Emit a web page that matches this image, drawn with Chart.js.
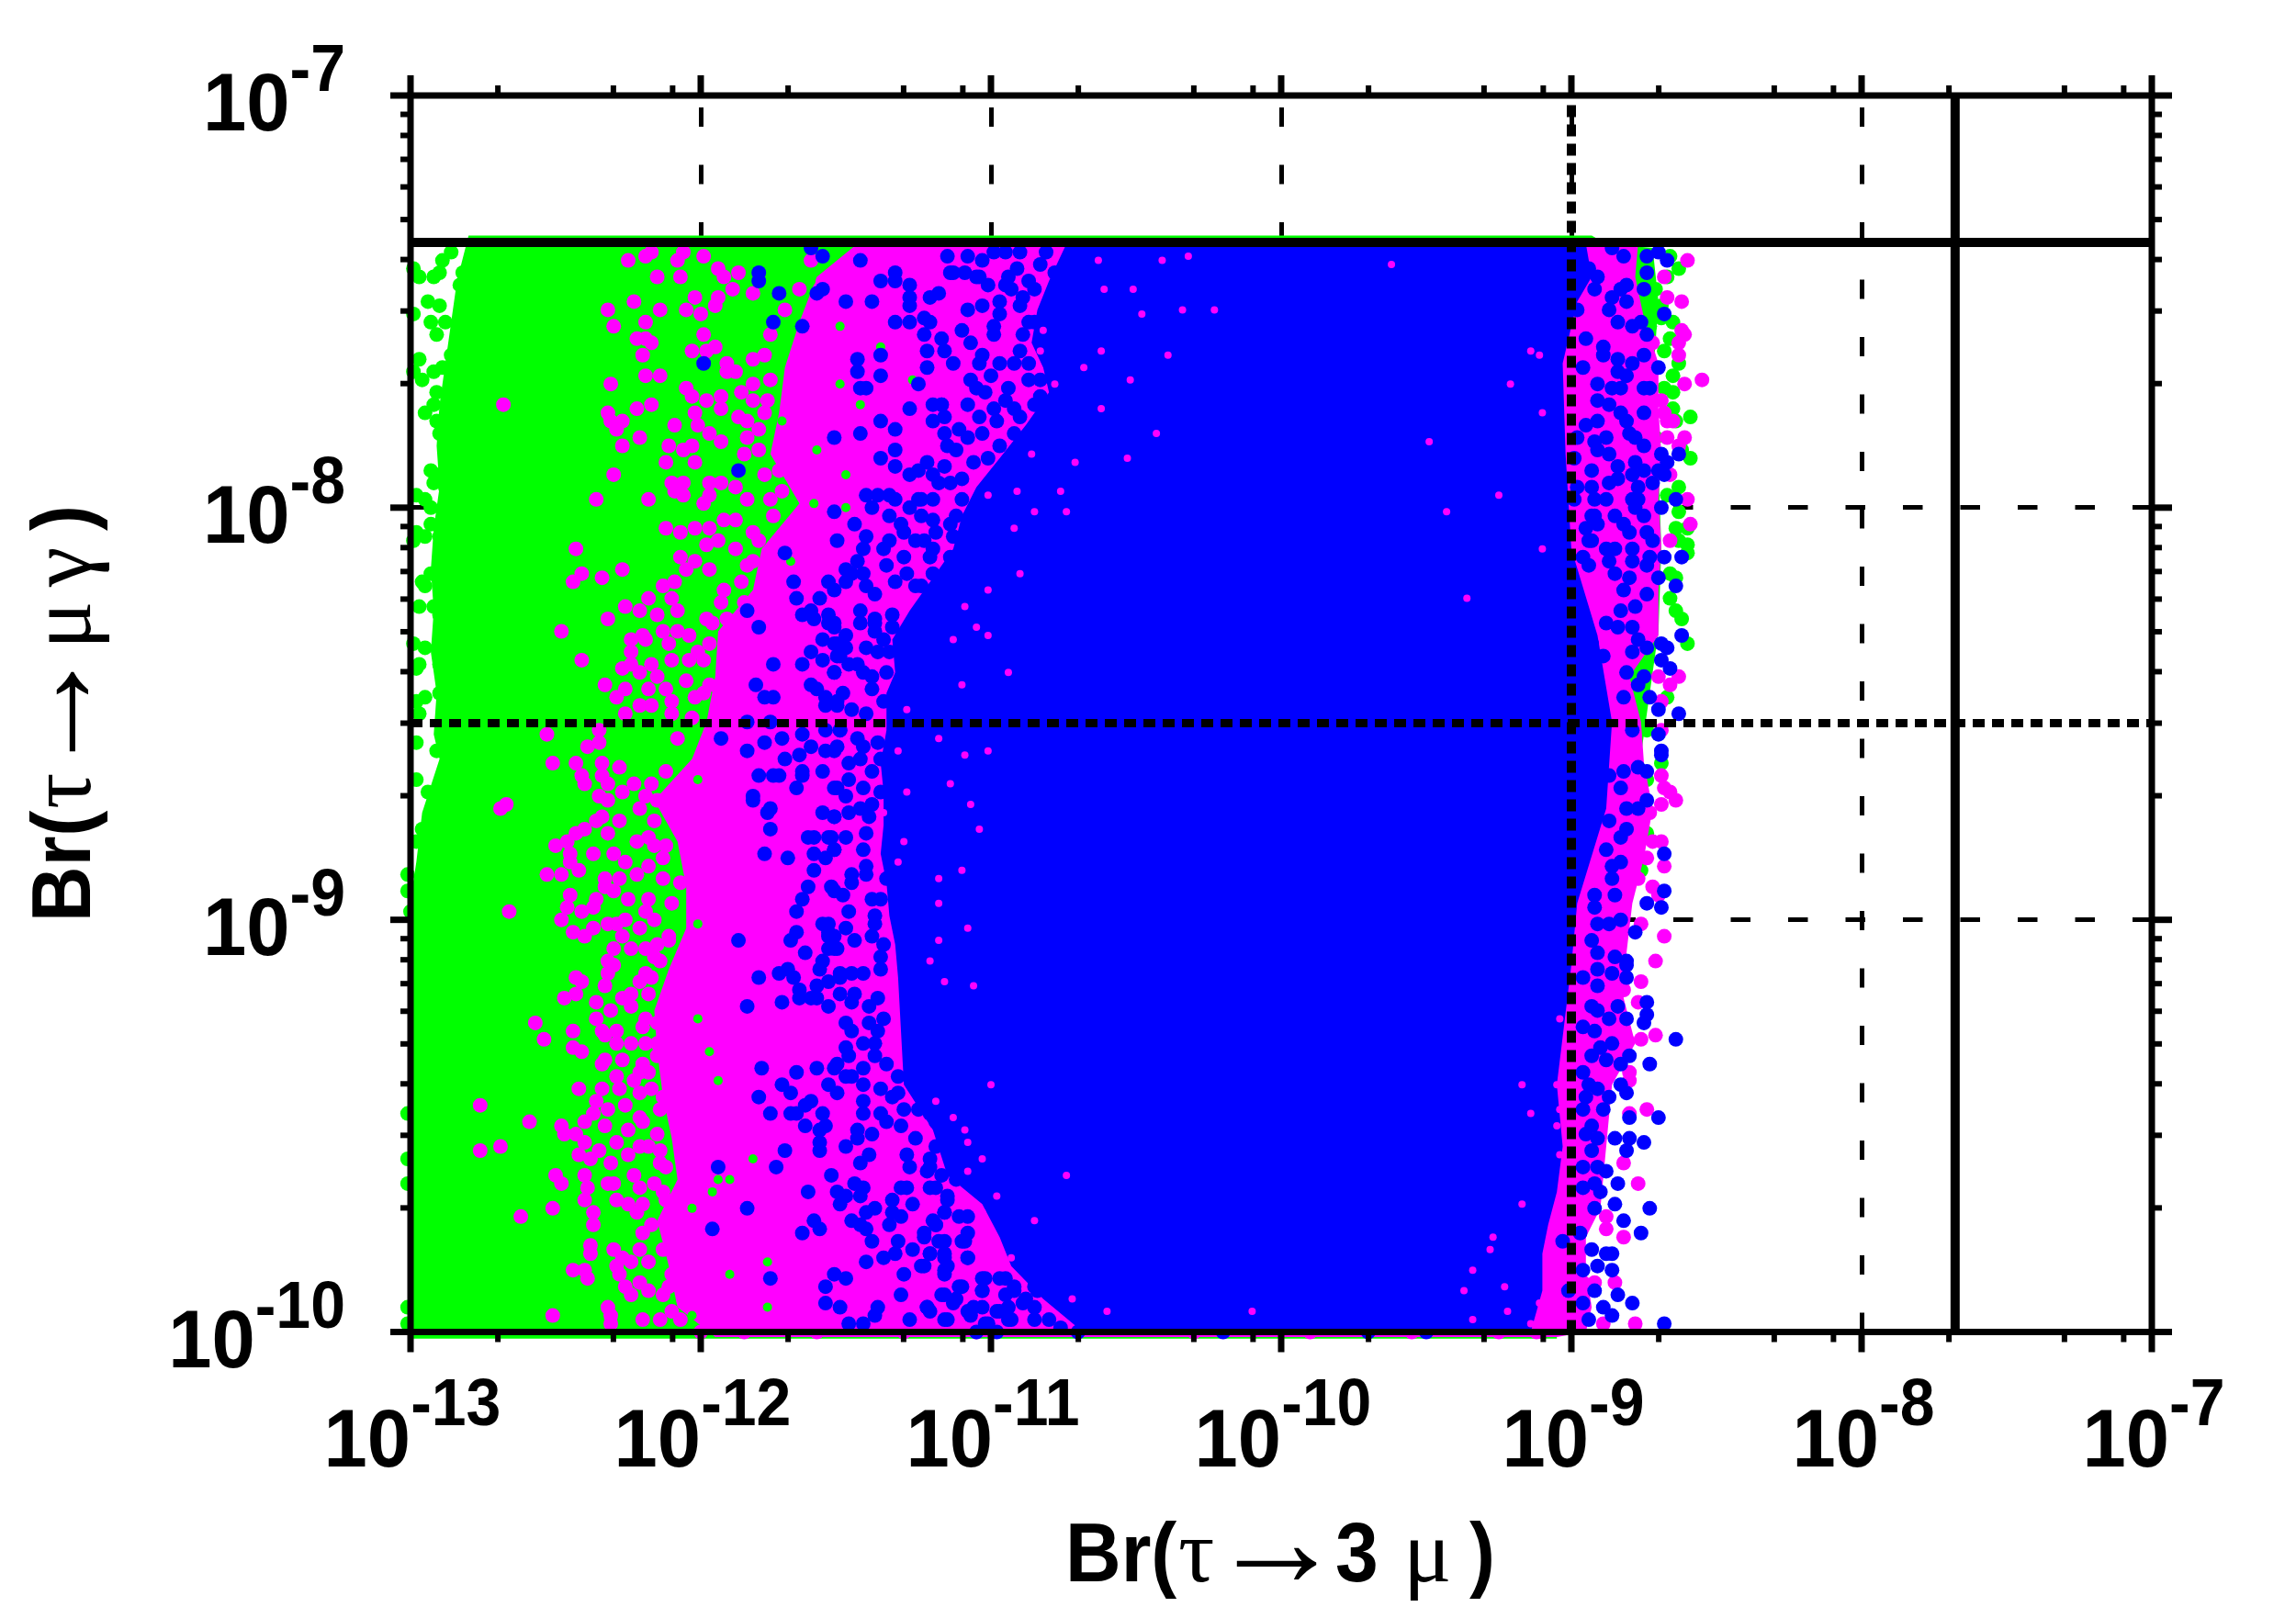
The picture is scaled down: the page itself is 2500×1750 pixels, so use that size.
<!DOCTYPE html>
<html>
<head>
<meta charset="utf-8">
<title>Br chart</title>
<script src="https://cdn.jsdelivr.net/npm/chart.js@4"></script>
<style>
  body { margin: 0; background: #fff; }
  canvas { display: block; }
</style>
</head>
<body>
<canvas id="brChart" width="2500" height="1750"></canvas>
<script>
// all pairs are [log10 Br(tau->3mu), log10 Br(tau->mu gamma)]
const xTickValues = [1e-13, 1e-12, 1e-11, 1e-10, 1e-9, 1e-8, 1e-7];
const yTickValues = [1e-10, 1e-9, 1e-8, 1e-7];
const xMinorFactors = [2, 5, 8];
const yMinorFactors = [2, 3, 4, 5, 6, 7, 8, 9];
const xTickLabels = ['-13', '-12', '-11', '-10', '-9', '-8', '-7'];
const yTickLabels = ['-10', '-9', '-8', '-7'];

const limitMuGamma = 4.4e-8;
const limitThreeMu = 2.1e-8;
const futureMuGamma = 3e-9;
const futureThreeMu = 1e-9;

// solid parts of the clouds, where single dots can no longer be told apart
const greenOutline = [[-12.80,-7.34],[-8.93,-7.34],[-8.88,-7.36],[-8.72,-7.37],[-8.70,-7.5],[-8.72,-7.7],[-8.70,-7.9],[-8.69,-8.1],[-8.70,-8.3],[-8.74,-8.5],[-8.78,-8.7],[-8.82,-9.0],[-9.05,-9.5],[-9.05,-10.016],[-13,-10.016],[-13,-8.95],[-12.98,-8.86],[-12.96,-8.74],[-12.90,-8.61],[-12.92,-8.55],[-12.91,-8.45],[-12.93,-8.35],[-12.92,-8.25],[-12.93,-8.15],[-12.92,-8.05],[-12.90,-7.95],[-12.91,-7.85],[-12.90,-7.75],[-12.88,-7.65],[-12.86,-7.55],[-12.84,-7.45]];
const magentaOutline = [[-11.44,-7.348],[-8.90,-7.348],[-8.77,-7.36],[-8.78,-7.44],[-8.75,-7.54],[-8.70,-7.65],[-8.70,-7.76],[-8.69,-7.87],[-8.70,-7.98],[-8.69,-8.09],[-8.70,-8.2],[-8.70,-8.31],[-8.80,-8.41],[-8.76,-8.52],[-8.75,-8.62],[-8.72,-8.73],[-8.75,-8.85],[-8.79,-8.96],[-8.81,-9.08],[-8.82,-9.19],[-8.78,-9.30],[-8.86,-9.40],[-8.88,-9.55],[-8.90,-9.70],[-8.95,-9.77],[-8.95,-9.85],[-8.93,-9.94],[-8.95,-10.0],[-9.05,-10.012],[-11.95,-10.012],[-12.08,-9.94],[-12.11,-9.84],[-12.15,-9.73],[-12.08,-9.63],[-12.10,-9.53],[-12.13,-9.43],[-12.15,-9.32],[-12.16,-9.22],[-12.11,-9.12],[-12.05,-9.02],[-12.05,-8.92],[-12.08,-8.81],[-12.16,-8.71],[-12.03,-8.61],[-11.98,-8.52],[-11.95,-8.41],[-11.94,-8.30],[-11.82,-8.20],[-11.79,-8.10],[-11.66,-7.99],[-11.76,-7.87],[-11.73,-7.77],[-11.71,-7.66],[-11.66,-7.55],[-11.60,-7.44]];
const blueOutline = [[-10.74,-7.36],[-8.95,-7.36],[-8.93,-7.44],[-8.98,-7.5],[-9.03,-7.65],[-9.02,-7.87],[-9.0,-8.1],[-8.91,-8.31],[-8.86,-8.52],[-8.88,-8.73],[-8.98,-8.96],[-9.00,-9.11],[-9.05,-9.40],[-9.03,-9.55],[-9.05,-9.66],[-9.08,-9.74],[-9.10,-9.81],[-9.10,-9.90],[-9.14,-10.0],[-10.70,-10.0],[-10.70,-9.99],[-10.82,-9.92],[-10.93,-9.84],[-10.97,-9.77],[-11.03,-9.69],[-11.15,-9.62],[-11.20,-9.51],[-11.30,-9.40],[-11.32,-9.14],[-11.33,-9.06],[-11.35,-8.99],[-11.36,-8.91],[-11.38,-8.84],[-11.37,-8.77],[-11.37,-8.69],[-11.38,-8.62],[-11.36,-8.54],[-11.36,-8.45],[-11.33,-8.40],[-11.34,-8.32],[-11.28,-8.25],[-11.20,-8.17],[-11.13,-8.10],[-11.10,-8.02],[-11.05,-7.95],[-10.97,-7.88],[-10.88,-7.80],[-10.80,-7.72],[-10.82,-7.66],[-10.86,-7.60],[-10.84,-7.52],[-10.80,-7.45]];

const greenPoints = [[-12.89,-7.40],[-12.90,-7.43],[-12.92,-7.44],[-12.97,-7.44],[-12.99,-7.42],[-12.79,-7.39],[-12.86,-7.38],[-12.82,-7.43],[-12.78,-7.42],[-12.79,-7.48],[-12.83,-7.46],[-12.94,-7.50],[-12.90,-7.51],[-12.99,-7.53],[-12.93,-7.55],[-12.88,-7.55],[-12.82,-7.54],[-12.91,-7.58],[-12.83,-7.59],[-12.97,-7.64],[-12.86,-7.63],[-12.89,-7.66],[-12.92,-7.67],[-12.99,-7.67],[-12.96,-7.69],[-12.91,-7.72],[-12.86,-7.72],[-12.81,-7.72],[-12.92,-7.75],[-12.95,-7.77],[-12.87,-7.75],[-12.84,-7.76],[-12.91,-7.79],[-12.90,-7.82],[-12.82,-7.79],[-12.84,-7.83],[-12.87,-7.88],[-12.93,-7.91],[-12.91,-7.92],[-12.84,-7.92],[-12.80,-7.92],[-12.92,-7.94],[-12.88,-7.95],[-12.98,-7.97],[-12.95,-7.98],[-12.87,-7.97],[-12.81,-7.96],[-12.93,-8.00],[-12.85,-8.01],[-12.93,-8.04],[-12.98,-8.06],[-12.99,-8.08],[-12.95,-8.07],[-12.90,-8.07],[-12.93,-8.16],[-12.87,-8.13],[-12.96,-8.18],[-12.95,-8.19],[-12.87,-8.20],[-12.97,-8.24],[-12.92,-8.24],[-12.90,-8.26],[-12.86,-8.25],[-12.99,-8.33],[-12.95,-8.34],[-12.88,-8.32],[-12.97,-8.38],[-12.90,-8.38],[-12.98,-8.39],[-12.88,-8.36],[-12.83,-8.39],[-12.85,-8.45],[-12.95,-8.46],[-12.90,-8.45],[-12.98,-8.47],[-12.97,-8.50],[-12.87,-8.49],[-12.98,-8.57],[-12.91,-8.59],[-12.86,-8.61],[-12.84,-8.65],[-12.98,-8.66],[-12.88,-8.67],[-12.94,-8.69],[-12.96,-8.78],[-12.93,-8.81],[-12.98,-8.81],[-12.94,-8.86],[-13.01,-8.89],[-13.01,-8.93],[-13.00,-8.98],[-13.01,-9.47],[-13.01,-9.58],[-13.01,-9.64],[-13.01,-9.94],[-13.01,-9.98],
  [-8.63,-7.42],[-8.66,-7.39],[-8.67,-7.44],[-8.71,-7.47],[-8.69,-7.51],[-8.69,-7.54],[-8.65,-7.55],[-8.73,-7.56],[-8.66,-7.59],[-8.68,-7.62],[-8.63,-7.65],[-8.65,-7.68],[-8.68,-7.71],[-8.65,-7.72],[-8.65,-7.76],[-8.59,-7.78],[-8.64,-7.79],[-8.71,-7.83],[-8.62,-7.86],[-8.59,-7.88],[-8.63,-7.95],[-8.67,-7.97],[-8.63,-8.01],[-8.64,-8.05],[-8.60,-8.05],[-8.63,-8.08],[-8.60,-8.09],[-8.60,-8.11],[-8.66,-8.16],[-8.64,-8.17],[-8.66,-8.22],[-8.64,-8.25],[-8.62,-8.27],[-8.60,-8.33],[-8.67,-8.46],[-8.74,-8.54],[-8.69,-8.62],[-8.74,-8.66],[-8.74,-8.79],[-8.76,-8.88],[-8.81,-8.92]];

const greenGaps = [[-11.62,-7.45],[-11.52,-7.56],[-11.38,-7.61],[-11.52,-7.70],[-11.45,-7.75],[-11.72,-7.79],[-11.60,-7.86],[-11.50,-7.92],[-11.61,-7.99],[-11.50,-8.00],[-11.27,-7.69],[-11.69,-8.13],[-12.01,-8.66],[-11.97,-9.32],[-12.01,-9.24],[-12.01,-9.01],[-11.94,-9.63],[-11.90,-9.63],[-11.82,-9.58],[-11.77,-9.83],[-11.90,-9.86],[-11.77,-9.94],[-12.03,-9.70],[-12.03,-9.96],[-11.94,-9.39],[-11.96,-9.66]];

const magentaPoints = [[-12.25,-7.40],[-12.19,-7.39],[-12.17,-7.38],[-12.08,-7.40],[-12.06,-7.38],[-11.99,-7.39],[-12.07,-7.44],[-12.15,-7.44],[-11.94,-7.42],[-11.92,-7.44],[-11.87,-7.43],[-12.23,-7.50],[-12.32,-7.52],[-12.30,-7.56],[-12.14,-7.52],[-12.19,-7.55],[-12.02,-7.49],[-12.05,-7.52],[-12.00,-7.53],[-11.99,-7.58],[-12.22,-7.59],[-12.19,-7.59],[-12.17,-7.60],[-12.20,-7.63],[-12.03,-7.62],[-11.98,-7.62],[-11.95,-7.61],[-11.89,-7.47],[-11.94,-7.49],[-11.95,-7.51],[-11.82,-7.48],[-11.91,-7.65],[-11.91,-7.67],[-11.88,-7.67],[-11.82,-7.64],[-12.19,-7.68],[-12.14,-7.68],[-12.31,-7.70],[-12.68,-7.75],[-12.05,-7.71],[-12.03,-7.73],[-11.82,-7.70],[-11.86,-7.72],[-11.98,-7.74],[-11.93,-7.73],[-11.82,-7.74],[-11.93,-7.76],[-12.02,-7.77],[-12.32,-7.77],[-12.22,-7.76],[-12.17,-7.75],[-12.31,-7.79],[-12.27,-7.79],[-12.29,-7.81],[-12.09,-7.80],[-12.01,-7.80],[-11.97,-7.82],[-11.87,-7.78],[-11.84,-7.79],[-11.78,-7.77],[-12.21,-7.83],[-12.27,-7.85],[-12.11,-7.85],[-12.06,-7.86],[-12.03,-7.85],[-11.93,-7.84],[-11.84,-7.83],[-12.12,-7.89],[-12.02,-7.89],[-11.85,-7.87],[-12.30,-7.92],[-12.10,-7.94],[-12.06,-7.94],[-12.09,-7.96],[-12.06,-7.97],[-11.97,-7.94],[-11.93,-7.94],[-11.88,-7.95],[-11.78,-7.92],[-12.36,-7.98],[-12.18,-7.98],[-11.97,-7.97],[-11.99,-7.99],[-11.84,-7.98],[-11.76,-7.98],[-12.12,-8.05],[-12.07,-8.06],[-12.02,-8.05],[-11.97,-8.05],[-11.92,-8.03],[-11.88,-8.03],[-12.43,-8.10],[-11.98,-8.09],[-11.94,-8.08],[-11.80,-8.08],[-12.07,-8.12],[-12.02,-8.13],[-12.05,-8.15],[-11.97,-8.15],[-11.88,-8.10],[-11.84,-8.14],[-12.41,-8.16],[-12.44,-8.18],[-12.34,-8.17],[-12.27,-8.15],[-12.13,-8.19],[-12.09,-8.18],[-12.10,-8.22],[-12.18,-8.22],[-12.26,-8.24],[-12.21,-8.25],[-12.15,-8.26],[-11.92,-8.20],[-11.93,-8.23],[-12.08,-8.25],[-12.32,-8.27],[-12.48,-8.30],[-11.98,-8.27],[-11.91,-8.27],[-12.08,-8.30],[-12.13,-8.30],[-12.04,-8.31],[-12.24,-8.32],[-12.20,-8.31],[-12.19,-8.32],[-12.11,-8.33],[-11.97,-8.33],[-12.24,-8.35],[-12.41,-8.37],[-12.04,-8.37],[-12.01,-8.35],[-12.10,-8.37],[-12.24,-8.38],[-12.27,-8.39],[-12.21,-8.40],[-12.17,-8.38],[-12.15,-8.41],[-12.33,-8.43],[-12.26,-8.44],[-12.29,-8.46],[-12.18,-8.44],[-12.12,-8.44],[-12.05,-8.42],[-11.97,-8.43],[-12.10,-8.47],[-12.21,-8.48],[-12.17,-8.48],[-12.26,-8.50],[-12.10,-8.50],[-12.02,-8.46],
  [-12.53,-8.55],[-12.35,-8.54],[-12.39,-8.58],[-12.35,-8.57],[-12.51,-8.62],[-12.43,-8.62],[-12.34,-8.62],[-12.28,-8.63],[-12.41,-8.65],[-12.34,-8.65],[-12.40,-8.67],[-12.32,-8.67],[-12.27,-8.69],[-12.17,-8.67],[-12.23,-8.67],[-12.67,-8.72],[-12.69,-8.73],[-12.35,-8.70],[-12.32,-8.71],[-12.15,-8.71],[-12.21,-8.73],[-12.10,-8.74],[-12.36,-8.76],[-12.34,-8.75],[-12.28,-8.76],[-12.16,-8.76],[-12.40,-8.78],[-12.06,-8.79],[-12.50,-8.82],[-12.46,-8.81],[-12.43,-8.79],[-12.32,-8.79],[-12.45,-8.84],[-12.37,-8.84],[-12.30,-8.84],[-12.26,-8.86],[-12.16,-8.82],[-12.12,-8.82],[-12.22,-8.81],[-12.45,-8.86],[-12.53,-8.89],[-12.48,-8.89],[-12.42,-8.88],[-12.18,-8.87],[-12.22,-8.89],[-12.33,-8.90],[-12.28,-8.90],[-12.33,-8.92],[-12.30,-8.93],[-12.13,-8.90],[-12.07,-8.91],[-12.45,-8.94],[-12.36,-8.95],[-12.37,-8.97],[-12.25,-8.95],[-12.18,-8.95],[-12.46,-8.97],[-12.66,-8.98],[-12.41,-8.98],[-12.19,-8.98],[-12.48,-9.00],[-12.26,-9.00],[-12.32,-9.01],[-12.29,-9.01],[-12.16,-9.00],[-12.37,-9.02],[-12.44,-9.03],[-12.40,-9.04],[-12.21,-9.02],[-12.27,-9.04],[-12.15,-9.06],[-12.11,-9.05],[-12.30,-9.07],[-12.32,-9.10],[-12.30,-9.11],[-12.24,-9.07],[-12.16,-9.09],[-12.19,-9.07],[-12.32,-9.13],[-12.43,-9.14],[-12.41,-9.15],[-12.43,-9.18],[-12.47,-9.19],[-12.33,-9.16],[-12.19,-9.13],[-12.21,-9.15],[-12.17,-9.14],[-12.27,-9.19],[-12.24,-9.18],[-12.36,-9.20],[-12.24,-9.21],[-12.31,-9.22],[-12.36,-9.24],[-12.57,-9.25],[-12.44,-9.27],[-12.54,-9.29],[-12.34,-9.27],[-12.29,-9.27],[-12.19,-9.24],[-12.15,-9.25],[-12.33,-9.28],[-12.44,-9.31],[-12.41,-9.32],[-12.29,-9.30],[-12.24,-9.30],[-12.15,-9.30],[-12.19,-9.30],[-12.33,-9.34],[-12.34,-9.35],[-12.27,-9.34],[-12.15,-9.33],[-12.29,-9.38],[-12.21,-9.37],[-12.18,-9.37],[-12.42,-9.41],[-12.34,-9.41],[-12.28,-9.41],[-12.23,-9.39],[-12.21,-9.42],[-12.76,-9.45],[-12.36,-9.44],[-12.13,-9.43],[-12.26,-9.45],[-12.32,-9.46],[-12.59,-9.49],[-12.37,-9.47],[-12.40,-9.49],[-12.33,-9.50],[-12.21,-9.48],[-12.20,-9.49],[-12.48,-9.50],[-12.47,-9.52],[-12.43,-9.52],[-12.25,-9.51],[-12.15,-9.52],[-12.69,-9.55],[-12.76,-9.56],[-12.40,-9.54],[-12.29,-9.54],[-12.21,-9.55],[-12.35,-9.56],[-12.42,-9.57],[-12.38,-9.58],[-12.31,-9.59],[-12.25,-9.57],[-12.18,-9.55],[-12.14,-9.59],[-12.23,-9.62],[-12.50,-9.62],[-12.48,-9.64],[-12.40,-9.62],[-12.39,-9.65],[-12.32,-9.64],[-12.30,-9.64],[-12.21,-9.65],[-12.16,-9.64],[-12.40,-9.68],[-12.13,-9.66],[-12.29,-9.68],[-12.25,-9.69],[-12.20,-9.69],[-12.51,-9.70],[-12.62,-9.72],[-12.37,-9.71],[-12.22,-9.71],[-12.37,-9.74],[-12.20,-9.76],[-12.38,-9.79],[-12.21,-9.80],[-12.30,-9.80],[-12.38,-9.81],[-12.27,-9.82],[-12.24,-9.83],[-12.18,-9.83],[-12.29,-9.84],[-12.44,-9.85],[-12.40,-9.85],[-12.39,-9.87],[-12.28,-9.86],[-12.10,-9.86],[-12.26,-9.89],[-12.21,-9.88],[-12.24,-9.91],[-12.18,-9.90],[-12.13,-9.91],[-12.51,-9.96],[-12.32,-9.94],[-12.31,-9.96],[-12.20,-9.97],[-12.14,-9.97],[-12.10,-9.95],[-12.07,-9.97],[-12.31,-9.98],
  [-11.62,-7.40],[-11.66,-7.47],[-11.71,-7.52],[-11.76,-7.58],[-11.78,-7.63],[-11.76,-7.69],[-11.77,-7.74],[-11.80,-7.81],[-11.80,-7.86],[-11.73,-7.91],[-11.72,-7.96],[-11.75,-8.02],[-11.82,-8.06],[-11.82,-8.13],[-11.86,-8.18],[-11.85,-8.23],[-11.96,-8.28],[-11.99,-8.37],[-11.99,-8.45],[-12.03,-8.51],[-12.08,-8.56],[-12.12,-8.64],[-12.19,-8.70],[-12.18,-8.80],[-12.13,-8.85],[-12.10,-8.96],[-12.11,-9.04],[-12.14,-9.10],[-12.18,-9.18],[-12.20,-9.26],[-12.20,-9.35],[-12.17,-9.41],[-12.14,-9.46],[-12.14,-9.56],[-12.12,-9.60],[-12.12,-9.68],[-12.17,-9.74],[-12.13,-9.80],[-12.11,-9.89],[-12.06,-9.92],
  [-8.60,-7.40],[-8.68,-7.44],[-8.67,-7.49],[-8.62,-7.50],[-8.62,-7.57],[-8.61,-7.58],[-8.72,-7.60],[-8.63,-7.60],[-8.63,-7.63],[-8.55,-7.69],[-8.61,-7.70],[-8.69,-7.74],[-8.68,-7.77],[-8.67,-7.79],[-8.65,-7.79],[-8.61,-7.83],[-8.67,-7.83],[-8.63,-7.85],[-8.66,-7.92],[-8.60,-7.98],[-8.59,-8.04],[-8.66,-8.08],[-8.70,-8.41],[-8.63,-8.41],[-8.66,-8.43],[-8.69,-8.47],[-8.69,-8.54],[-8.69,-8.65],[-8.68,-8.68],[-8.66,-8.69],[-8.64,-8.71],[-8.69,-8.72],[-8.73,-8.74],[-8.77,-8.78],[-8.72,-8.81],[-8.69,-8.81],[-8.74,-8.85],[-8.68,-8.87],[-8.72,-8.92],[-8.70,-8.94],[-8.77,-8.90],[-8.76,-9.01],[-8.68,-9.04],[-8.71,-9.10],[-8.76,-9.15],[-8.77,-9.20],[-8.76,-9.29],[-8.71,-9.28],[-8.80,-9.37],[-8.80,-9.39],[-8.82,-9.59],[-8.77,-9.64],[-8.74,-9.46],[-8.80,-9.47],[-8.88,-9.72],[-8.82,-9.77],[-8.88,-9.75],[-8.85,-9.88],[-8.92,-9.88],[-8.89,-9.98],[-8.78,-9.98],[-8.96,-9.88],[-8.86,-9.17],[-8.82,-9.17],[-8.81,-9.29],
  [-12.0,-10],[-11.85,-10],[-11.6,-10],[-11.3,-10],[-11.05,-10],[-10.7,-10],[-10.3,-10],[-9.9,-10],[-9.55,-10],[-9.25,-10],[-9.12,-10]];

const magentaGaps = [[-10.63,-7.40],[-10.41,-7.40],[-10.61,-7.47],[-10.51,-7.47],[-10.48,-7.53],[-10.82,-7.57],[-10.83,-7.62],[-10.62,-7.62],[-10.39,-7.63],[-10.68,-7.66],[-10.78,-7.70],[-10.52,-7.69],[-10.62,-7.76],[-10.43,-7.82],[-10.86,-7.87],[-10.71,-7.89],[-10.91,-7.96],[-10.74,-8.01],[-10.92,-8.05],[-11.01,-7.97],[-10.85,-8.01],[-10.76,-7.96],[-11.09,-8.24],[-11.01,-8.20],[-10.90,-8.16],[-10.53,-7.88],[-10.32,-7.39],[-10.23,-7.52],[-10.34,-7.52],
  [-10.94,-8.40],[-11.29,-8.49],[-11.18,-8.56],[-11.09,-8.60],[-11.01,-8.59],[-11.32,-8.59],[-11.14,-8.67],[-11.07,-8.72],[-11.29,-8.69],[-11.37,-8.74],[-11.04,-8.78],[-11.30,-8.81],[-11.18,-8.90],[-11.10,-8.88],[-11.18,-8.96],[-11.08,-9.02],[-11.18,-9.05],[-11.21,-9.10],[-11.13,-8.32],[-11.05,-8.29],[-11.01,-8.31],[-11.10,-8.43],[-11.32,-8.86],
  [-10.72,-9.92],[-10.60,-9.95],[-10.10,-9.95],[-10.82,-9.97],[-10.98,-9.98],[-10.85,-9.73],[-11.03,-9.71],[-10.98,-9.67],[-11.09,-9.51],[-11.08,-9.54],[-11.03,-9.58],[-11.22,-9.52],[-11.19,-9.44],[-11.13,-9.48],[-10.74,-9.62],[-11.16,-9.15],[-11.06,-9.16],[-10.93,-9.82],[-11.08,-9.61],[-11.00,-9.40],
  [-9.17,-9.40],[-9.05,-9.40],[-9.17,-9.69],[-9.27,-9.77],[-9.28,-9.80],[-9.34,-9.85],[-9.37,-9.90],[-9.08,-9.85],[-9.23,-9.89],[-9.22,-9.95],[-9.11,-9.93],[-9.04,-9.24],[-9.04,-9.46],[-9.04,-9.57],[-9.05,-9.50],[-9.14,-9.47],[-9.34,-9.97],[-9.14,-9.98],
  [-9.11,-7.63],[-9.21,-7.70],[-9.10,-7.77],[-9.25,-7.97],[-9.43,-8.01],[-9.10,-8.10],[-9.36,-8.22],[-9.14,-7.62],[-9.49,-7.84],[-9.62,-7.41]];

const bluePoints = [[-11.80,-7.43],[-11.80,-7.45],[-11.73,-7.48],[-11.75,-7.55],[-11.65,-7.56],[-11.99,-7.65],[-11.62,-7.37],[-11.58,-7.39],[-11.45,-7.40],[-11.58,-7.47],[-11.60,-7.48],[-11.50,-7.50],[-11.41,-7.50],[-11.38,-7.45],[-11.33,-7.43],[-11.33,-7.45],[-11.28,-7.46],[-11.28,-7.49],[-11.28,-7.51],[-11.21,-7.49],[-11.18,-7.48],[-11.33,-7.55],[-11.28,-7.55],[-11.23,-7.54],[-11.21,-7.55],[-11.23,-7.58],[-11.17,-7.59],[-11.10,-7.57],[-11.07,-7.60],[-11.08,-7.52],[-11.03,-7.51],[-11.15,-7.39],[-11.08,-7.39],[-11.03,-7.40],[-11.14,-7.43],[-11.05,-7.44],[-11.01,-7.46],[-11.46,-7.64],[-11.46,-7.67],[-11.38,-7.63],[-11.38,-7.68],[-11.45,-7.71],[-11.43,-7.71],[-11.25,-7.70],[-11.28,-7.76],[-11.20,-7.75],[-11.17,-7.75],[-11.20,-7.79],[-11.38,-7.79],[-11.45,-7.82],[-11.33,-7.81],[-11.54,-7.83],[-11.33,-7.86],[-11.38,-7.88],[-11.33,-7.90],[-11.22,-7.89],[-11.28,-7.92],[-11.25,-7.91],[-11.87,-7.91],[-11.43,-7.97],[-11.39,-7.97],[-11.35,-7.97],[-11.33,-7.98],[-11.25,-7.98],[-11.54,-8.01],[-11.41,-8.00],[-11.35,-8.02],[-11.28,-8.00],[-11.47,-8.04],[-11.31,-8.04],[-11.43,-8.07],[-11.44,-8.10],[-11.30,-8.06],[-11.35,-8.08],[-11.37,-8.10],[-11.53,-8.08],[-11.71,-8.11],[-11.26,-8.08],[-11.46,-8.13],[-11.50,-8.15],[-11.30,-8.12],[-11.36,-8.14],[-11.48,-8.16],[-11.44,-8.16],[-11.29,-8.16],[-11.56,-8.18],[-11.50,-8.18],[-11.68,-8.18],[-11.43,-8.19],[-11.54,-8.20],[-11.40,-8.21],[-11.33,-8.18],[-11.26,-8.19],[-11.67,-8.22],[-11.59,-8.22],[-11.84,-8.25],[-11.65,-8.26],[-11.62,-8.25],[-11.61,-8.27],[-11.45,-8.25],[-11.56,-8.26],[-11.56,-8.28],[-11.40,-8.27],[-11.34,-8.26],[-11.80,-8.29],[-11.54,-8.29],[-11.58,-8.32],[-11.53,-8.33],[-11.53,-8.36],[-11.62,-8.35],[-11.58,-8.37],[-11.75,-8.38],[-11.65,-8.38],[-11.54,-8.40],[-11.81,-8.43],[-11.62,-8.43],[-11.60,-8.44],[-11.57,-8.46],[-11.78,-8.46],[-11.75,-8.46],[-11.53,-8.48],[-11.57,-8.48],[-11.84,-8.52],[-11.76,-8.52],
  [-11.13,-7.43],[-11.09,-7.43],[-11.04,-7.44],[-10.97,-7.50],[-10.94,-7.44],[-10.91,-7.42],[-10.95,-7.46],[-10.93,-7.47],[-10.90,-7.51],[-10.97,-7.53],[-10.99,-7.56],[-10.99,-7.58],[-11.16,-7.62],[-11.22,-7.62],[-11.22,-7.66],[-11.13,-7.65],[-11.03,-7.63],[-11.04,-7.65],[-11.07,-7.69],[-11.05,-7.71],[-11.02,-7.72],[-11.00,-7.68],[-10.97,-7.65],[-10.94,-7.71],[-10.95,-7.74],[-11.08,-7.75],[-11.17,-7.75],[-11.16,-7.78],[-10.99,-7.76],[-11.04,-7.78],[-10.98,-7.79],[-10.92,-7.76],[-10.90,-7.78],[-11.16,-7.82],[-11.11,-7.81],[-11.15,-7.85],[-11.12,-7.86],[-11.08,-7.83],[-11.03,-7.82],[-10.97,-7.85],[-11.01,-7.88],[-11.06,-7.89],[-11.16,-7.90],[-11.18,-7.94],[-11.20,-7.92],[-11.14,-7.94],[-11.10,-7.93],[-11.10,-7.98],[-11.20,-7.98],[-11.24,-7.98],[-11.12,-8.02],[-11.20,-8.03],[-11.24,-8.02],[-11.14,-8.04],[-11.19,-8.06],[-11.13,-8.07],[-11.23,-8.08],[-11.20,-8.10],[-11.14,-8.12],[-11.21,-8.12],[-11.20,-8.16],[-11.24,-8.19],[-10.92,-7.82],[-10.88,-7.83],[-10.87,-7.55],[-10.85,-7.55],[-10.89,-7.58],[-10.90,-7.62],[-10.92,-7.65],[-10.87,-7.65],[-10.87,-7.69],[-10.83,-7.69],[-10.83,-7.73],[-10.85,-7.75],[-10.89,-7.49],[-10.85,-7.47],[-10.87,-7.45],[-10.83,-7.41],[-10.78,-7.43],[-10.99,-7.38],[-10.95,-7.38],[-10.90,-7.38],[-10.81,-7.38],
  [-11.45,-8.28],[-11.40,-8.28],[-11.40,-8.30],[-11.34,-8.29],[-11.37,-8.32],[-11.54,-8.28],[-11.50,-8.31],[-11.54,-8.33],[-11.50,-8.34],[-11.52,-8.36],[-11.43,-8.34],[-11.39,-8.35],[-11.35,-8.35],[-11.49,-8.38],[-11.46,-8.38],[-11.44,-8.40],[-11.41,-8.41],[-11.54,-8.40],[-11.36,-8.40],[-11.41,-8.44],[-11.51,-8.45],[-11.53,-8.47],[-11.48,-8.49],[-11.43,-8.50],[-11.37,-8.47],[-11.52,-8.54],[-11.46,-8.56],[-11.44,-8.58],[-11.53,-8.58],[-11.39,-8.57],[-11.38,-8.61],[-11.45,-8.61],[-11.49,-8.62],[-11.49,-8.66],[-11.44,-8.68],[-11.41,-8.64],[-11.53,-8.68],[-11.50,-8.70],[-11.38,-8.69],[-11.45,-8.73],[-11.41,-8.72],[-11.49,-8.74],[-11.54,-8.75],[-11.42,-8.75],[-11.43,-8.79],[-11.50,-8.80],[-11.55,-8.80],[-11.54,-8.83],[-11.44,-8.83],[-11.43,-8.87],[-11.43,-8.89],[-11.48,-8.89],[-11.48,-8.91],[-11.54,-8.93],[-11.51,-8.94],[-11.36,-8.90],[-11.41,-8.95],[-11.38,-8.95],[-11.40,-8.99],[-11.49,-8.98],[-11.40,-9.01],[-11.50,-9.02],[-11.56,-9.03],[-11.54,-9.07],[-11.47,-9.05],[-11.41,-9.04],[-11.37,-9.06],[-11.38,-9.09],[-11.38,-9.12],[-11.44,-9.13],[-11.52,-9.13],[-11.48,-9.13],
  [-11.93,-8.56],[-11.84,-8.59],[-11.78,-8.57],[-11.72,-8.56],[-11.71,-8.61],[-11.66,-8.60],[-11.62,-8.58],[-11.65,-8.55],[-11.57,-8.59],[-11.54,-8.59],[-11.57,-8.54],[-11.52,-8.54],[-11.80,-8.65],[-11.75,-8.65],[-11.73,-8.65],[-11.65,-8.64],[-11.65,-8.65],[-11.58,-8.64],[-11.67,-8.68],[-11.54,-8.68],[-11.82,-8.70],[-11.82,-8.71],[-11.77,-8.74],[-11.76,-8.73],[-11.58,-8.74],[-11.54,-8.75],[-11.76,-8.78],[-11.63,-8.80],[-11.61,-8.80],[-11.56,-8.80],[-11.61,-8.84],[-11.54,-8.83],[-11.78,-8.84],[-11.70,-8.85],[-11.57,-8.85],[-11.61,-8.88],[-11.63,-8.92],[-11.55,-8.92],[-11.65,-8.95],[-11.67,-8.98],[-11.58,-9.01],[-11.56,-9.01],[-11.67,-9.03],[-11.87,-9.05],[-11.69,-9.05],[-11.56,-9.04],[-11.54,-9.04],[-11.56,-9.07],[-11.53,-9.07],[-11.64,-9.08],[-11.58,-9.10],[-11.59,-9.12],[-11.80,-9.14],[-11.73,-9.13],[-11.70,-9.12],[-11.68,-9.14],[-11.52,-9.14],[-11.56,-9.15],[-11.60,-9.16],[-11.66,-9.17],[-11.52,-9.18],[-11.47,-9.18],[-11.66,-9.19],[-11.62,-9.19],[-11.60,-9.19],[-11.39,-9.19],[-11.72,-9.20],[-11.48,-9.20],[-11.56,-9.21],[-11.84,-9.21],[-11.42,-9.21],[-11.42,-9.25],[-11.37,-9.24],[-11.50,-9.25],[-11.48,-9.27],[-11.39,-9.27],[-11.44,-9.30],[-11.40,-9.30],[-11.50,-9.31],[-11.49,-9.33],[-11.40,-9.33],[-11.44,-9.36],[-11.53,-9.35],[-11.54,-9.36],[-11.36,-9.35],[-11.79,-9.36],[-11.67,-9.37],[-11.60,-9.36],[-11.32,-9.38],[-11.50,-9.38],[-11.48,-9.38],[-11.56,-9.40],[-11.72,-9.40],[-11.53,-9.42],[-11.44,-9.40],[-11.38,-9.41],[-11.69,-9.42],[-11.32,-9.42],[-11.80,-9.43],[-11.62,-9.44],[-11.44,-9.44],[-11.34,-9.43],[-11.64,-9.45],[-11.44,-9.47],[-11.30,-9.46],[-11.76,-9.47],[-11.69,-9.47],[-11.67,-9.47],[-11.58,-9.47],[-11.38,-9.47],[-11.25,-9.46],[-11.64,-9.50],[-11.36,-9.49],[-11.31,-9.50],[-11.57,-9.50],[-11.59,-9.51],[-11.46,-9.51],[-11.41,-9.52],[-11.46,-9.53],[-11.26,-9.53],[-11.59,-9.54],[-11.50,-9.55],[-11.59,-9.56],[-11.71,-9.56],[-11.29,-9.57],[-11.42,-9.57],[-11.45,-9.59],[-11.21,-9.58],[-11.94,-9.60],[-11.74,-9.60],[-11.28,-9.60],[-11.22,-9.61],[-11.55,-9.62],[-11.47,-9.64],[-11.44,-9.65],[-11.53,-9.66],[-11.50,-9.67],[-11.45,-9.67],[-11.31,-9.65],[-11.29,-9.65],[-11.19,-9.65],[-11.63,-9.66],[-11.52,-9.69],[-11.34,-9.68],[-11.15,-9.67],[-11.27,-9.69],[-11.40,-9.70],[-11.84,-9.70],[-11.34,-9.71],[-11.43,-9.71],[-11.48,-9.73],[-11.16,-9.71],[-11.31,-9.72],[-11.45,-9.74],[-11.35,-9.74],[-11.20,-9.73],[-11.08,-9.72],[-11.43,-9.75],[-11.61,-9.73],[-11.59,-9.75],[-11.96,-9.75],[-11.65,-9.76],[-11.19,-9.74],[-11.23,-9.77],[-11.41,-9.78],[-11.32,-9.78],[-11.18,-9.78],[-11.08,-9.76],[-11.27,-9.80],[-11.37,-9.82],[-11.33,-9.81],[-11.21,-9.81],[-11.16,-9.81],[-11.08,-9.82],[-11.43,-9.83],[-11.24,-9.84],[-11.15,-9.84],[-11.30,-9.86],[-11.54,-9.86],[-11.50,-9.87],[-11.76,-9.87],[-11.16,-9.86],[-11.03,-9.87],[-11.57,-9.89],[-11.10,-9.89],[-10.95,-9.87],[-11.31,-9.91],[-11.17,-9.91],[-11.03,-9.90],[-10.92,-9.90],[-11.13,-9.93],[-11.57,-9.93],[-11.52,-9.94],[-11.39,-9.94],[-11.22,-9.94],[-11.21,-9.95],[-11.40,-9.96],[-11.07,-9.96],[-11.06,-9.94],[-11.03,-9.94],[-10.97,-9.95],[-10.89,-9.93],[-10.84,-9.90],[-11.28,-9.97],[-11.15,-9.97],[-11.49,-9.98],[-11.44,-9.98],[-11.02,-9.98],[-10.94,-9.97],[-10.85,-9.97],[-10.98,-10.00],[-10.76,-9.99],
  [-11.23,-9.42],[-11.21,-9.65],[-11.15,-9.68],[-11.16,-9.71],[-11.19,-9.74],[-11.23,-9.76],[-11.16,-9.78],[-11.10,-9.78],[-11.21,-9.81],[-11.16,-9.82],[-11.23,-9.84],[-11.16,-9.85],[-11.08,-9.82],[-11.02,-9.87],[-10.97,-9.87],[-11.03,-9.90],[-11.11,-9.89],[-11.16,-9.91],[-11.12,-9.92],[-11.22,-9.94],[-11.16,-9.97],[-11.08,-9.95],[-10.98,-9.95],[-10.94,-9.94],[-11.01,-9.98],[-10.92,-9.89],[-10.95,-9.91],[-10.85,-9.89],[-10.88,-9.92],[-10.93,-9.97],[-10.85,-9.94],[-10.80,-9.97],[-11.09,-9.78],[-11.12,-9.63],[-11.17,-9.62],[-11.19,-9.55],[-11.21,-9.60],[-11.21,-9.47],[-11.11,-9.72],[-11.19,-9.49],
  [-9.03,-9.78],[-9.01,-9.90],[-8.98,-7.52],[-8.95,-7.59],[-8.96,-7.66],[-8.95,-7.80],[-8.98,-7.83],[-8.99,-7.88],[-8.98,-7.95],[-8.99,-7.98],[-8.95,-8.05],[-8.94,-8.08],[-8.93,-8.02],[-8.96,-8.12],[-8.94,-8.14],[-8.99,-8.21],[-8.99,-8.26],[-8.96,-8.31],[-8.93,-8.33],[-8.89,-8.36],[-8.94,-7.42],[-8.91,-7.44],[-8.92,-7.47],
  [-8.67,-7.40],[-8.74,-7.39],[-8.70,-7.38],[-8.82,-7.39],[-8.86,-7.37],[-8.74,-7.43],[-8.75,-7.47],[-8.81,-7.46],[-8.83,-7.47],[-8.81,-7.50],[-8.86,-7.49],[-8.68,-7.53],[-8.87,-7.52],[-8.84,-7.55],[-8.79,-7.56],[-8.76,-7.55],[-8.74,-7.58],[-8.75,-7.63],[-8.89,-7.61],[-8.89,-7.63],[-8.84,-7.64],[-8.79,-7.65],[-8.70,-7.66],[-8.84,-7.67],[-8.81,-7.68],[-8.83,-7.71],[-8.86,-7.71],[-8.91,-7.70],[-8.75,-7.71],[-8.73,-7.71],[-8.91,-7.74],[-8.87,-7.75],[-8.83,-7.77],[-8.75,-7.77],[-8.81,-7.79],[-8.91,-7.79],[-8.80,-7.82],[-8.88,-7.83],[-8.78,-7.83],[-8.92,-7.84],[-8.75,-7.85],[-8.91,-7.86],[-8.87,-7.87],[-8.69,-7.87],[-8.63,-7.87],[-8.78,-7.89],[-8.67,-7.89],[-8.84,-7.90],[-8.93,-7.91],[-8.75,-7.91],[-8.70,-7.91],[-8.68,-7.92],[-8.84,-7.93],[-8.79,-7.92],[-8.72,-7.94],[-8.87,-7.94],[-8.93,-7.95],[-8.77,-7.95],[-8.64,-7.98],[-8.92,-7.98],[-8.88,-7.98],[-8.79,-7.98],[-8.77,-7.98],[-8.78,-8.00],[-8.69,-8.00],[-8.92,-8.02],[-8.85,-8.02],[-8.75,-8.02],[-8.91,-8.04],[-8.82,-8.04],[-8.80,-8.06],[-8.74,-8.06],[-8.72,-8.08],[-8.93,-8.08],[-8.79,-8.10],[-8.88,-8.10],[-8.85,-8.10],[-8.68,-8.12],[-8.62,-8.12],[-8.73,-8.12],[-8.79,-8.13],[-8.74,-8.14],[-8.87,-8.13],[-8.80,-8.17],[-8.70,-8.17],[-8.64,-8.19],[-8.85,-8.16],[-8.74,-8.21],[-8.82,-8.20],[-8.78,-8.24],[-8.83,-8.25],[-8.88,-8.28],[-8.84,-8.29],[-8.79,-8.29],[-8.62,-8.31],[-8.77,-8.32],[-8.69,-8.33],[-8.67,-8.34],[-8.74,-8.34],[-8.79,-8.35],[-8.69,-8.37],[-8.66,-8.39],[-8.81,-8.40],[-8.75,-8.41],[-8.77,-8.43],[-8.73,-8.46],[-8.82,-8.46],[-8.63,-8.50],[-8.70,-8.49],[-8.70,-8.55],[-8.79,-8.54],[-8.69,-8.59],
  [-8.69,-8.60],[-8.74,-8.64],[-8.82,-8.64],[-8.77,-8.63],[-8.87,-8.65],[-8.83,-8.68],[-8.74,-8.71],[-8.77,-8.73],[-8.81,-8.73],[-8.87,-8.76],[-8.81,-8.78],[-8.83,-8.80],[-8.88,-8.83],[-8.68,-8.84],[-8.83,-8.86],[-8.86,-8.87],[-8.86,-8.90],[-8.68,-8.93],[-8.85,-8.94],[-8.92,-8.94],[-8.74,-8.96],[-8.69,-8.97],[-8.92,-8.97],[-8.91,-9.01],[-8.87,-9.01],[-8.83,-9.00],[-8.78,-9.03],[-8.93,-9.05],[-8.91,-9.08],[-8.85,-9.09],[-8.81,-9.10],
  [-8.96,-9.26],[-8.92,-9.27],[-8.90,-9.31],[-8.86,-9.30],[-8.93,-9.33],[-8.88,-9.34],[-8.83,-9.35],[-8.80,-9.33],[-8.73,-9.35],[-8.64,-9.29],[-8.75,-9.25],[-8.74,-9.23],[-8.74,-9.20],[-8.84,-9.21],[-8.81,-9.24],[-8.87,-9.24],[-8.91,-9.22],[-8.93,-9.21],[-8.91,-9.16],[-8.96,-9.14],[-8.91,-9.12],[-8.86,-9.13],[-8.81,-9.14],[-8.81,-9.11],[-8.96,-9.46],[-8.89,-9.46],[-8.70,-9.48],[-8.80,-9.48],[-8.93,-9.50],[-8.95,-9.52],[-8.91,-9.53],[-8.85,-9.53],[-8.80,-9.53],[-8.75,-9.54],[-8.81,-9.56],[-8.93,-9.56],[-8.91,-9.60],[-8.96,-9.60],[-8.88,-9.61],[-8.92,-9.64],[-8.84,-9.64],[-8.96,-9.65],[-8.90,-9.66],[-8.85,-9.69],[-8.92,-9.70],[-8.73,-9.70],[-8.82,-9.73],[-8.76,-9.76],[-8.97,-9.76],[-8.93,-9.80],[-8.88,-9.81],[-8.86,-9.81],[-8.96,-9.85],[-8.91,-9.84],[-8.86,-9.85],[-8.92,-9.90],[-8.84,-9.91],[-8.79,-9.93],[-8.89,-9.94],[-8.96,-9.93],[-8.86,-9.96],[-8.94,-9.97],[-8.68,-9.98],[-8.83,-9.40],[-8.81,-9.42],[-8.94,-9.40],[-8.91,-9.41],[-8.87,-9.43],[-8.96,-9.37],[-8.95,-9.43],
  [-11.05,-10],[-10.7,-10],[-10.2,-10],[-9.7,-10],[-9.5,-10]];

function toPoints(pairs) {
  return pairs.map(function(p) { return { x: Math.pow(10, p[0]), y: Math.pow(10, p[1]) }; });
}

function cloud(pairs, color, order, radius) {
  return { data: toPoints(pairs), order: order, clip: false, showLine: false,
    pointRadius: radius, pointBackgroundColor: color, pointBorderWidth: 0 };
}

function region(pairs, color, order) {
  return { data: toPoints(pairs), order: order, clip: false, showLine: false,
    pointRadius: 0, regionColor: color };
}

function refLine(from, to, width, dash, order) {
  return { data: [from, to], order: order, clip: false, showLine: true, fill: false,
    borderColor: '#000', borderWidth: width, borderDash: dash, pointRadius: 0 };
}

// fills the outline datasets, using the pixel positions the scales gave their points
const regionFill = {
  id: 'regionFill',
  afterDatasetDraw: function(chart, args) {
    const color = chart.data.datasets[args.index].regionColor;
    if (!color) return;
    const ctx = chart.ctx;
    ctx.save();
    ctx.beginPath();
    args.meta.data.forEach(function(el, i) {
      if (i === 0) ctx.moveTo(el.x, el.y); else ctx.lineTo(el.x, el.y);
    });
    ctx.closePath();
    ctx.fillStyle = color;
    ctx.fill();
    ctx.restore();
  }
};

// the reference font is narrower and taller than Liberation, so stretch it a bit
function tallText(ctx, text, x, y, font, stretch) {
  ctx.save();
  ctx.font = font;
  ctx.textAlign = 'left';
  ctx.translate(x, y);
  ctx.scale(1, stretch);
  ctx.fillText(text, 0, 0);
  ctx.restore();
}

function drawRuns(ctx, runs, baseline) {
  runs.forEach(function(r) {
    tallText(ctx, r[0], r[1], baseline + r[3], r[2], r[4]);
  });
}

// gnuplot style frame, outward ticks, 10^n labels and the axis titles
const frameAndText = {
  id: 'frameAndText',
  afterDraw: function(chart) {
    const ctx = chart.ctx;
    const area = chart.chartArea;
    const xs = chart.scales.x;
    const ys = chart.scales.y;
    ctx.save();
    ctx.strokeStyle = '#000';
    ctx.fillStyle = '#000';

    ctx.lineWidth = 7;
    ctx.strokeRect(area.left, area.top, area.right - area.left, area.bottom - area.top);

    function tick(x1, y1, x2, y2, w) {
      ctx.lineWidth = w;
      ctx.beginPath();
      ctx.moveTo(x1, y1);
      ctx.lineTo(x2, y2);
      ctx.stroke();
    }
    function xTick(v, len, w) {
      const px = xs.getPixelForValue(v);
      tick(px, area.bottom, px, area.bottom + len, w);
      tick(px, area.top, px, area.top - len, w);
    }
    function yTick(v, len, w) {
      const py = ys.getPixelForValue(v);
      tick(area.left, py, area.left - len, py, w);
      tick(area.right, py, area.right + len, py, w);
    }
    xTickValues.forEach(function(v, i) {
      xTick(v, 22, 7);
      if (i < xTickValues.length - 1) xMinorFactors.forEach(function(f) { xTick(v * f, 11, 6); });
    });
    yTickValues.forEach(function(v, i) {
      yTick(v, 22, 7);
      if (i < yTickValues.length - 1) yMinorFactors.forEach(function(f) { yTick(v * f, 11, 6); });
    });

    const baseFont = 'bold 85px "Liberation Sans"';
    const expFont = 'bold 68px "Liberation Sans"';
    const labelStretch = 1.05;
    xTickValues.forEach(function(v, i) {
      ctx.font = baseFont;
      const w10 = ctx.measureText('10').width;
      ctx.font = expFont;
      const wExp = ctx.measureText(xTickLabels[i]).width;
      const start = xs.getPixelForValue(v) + 2 - (w10 + wExp) / 2;
      tallText(ctx, '10', start, 1597, baseFont, labelStretch);
      tallText(ctx, xTickLabels[i], start + w10, 1552, expFont, labelStretch);
    });
    yTickValues.forEach(function(v, i) {
      const py = ys.getPixelForValue(v);
      ctx.font = expFont;
      const wExp = ctx.measureText(yTickLabels[i]).width;
      ctx.font = baseFont;
      const w10 = ctx.measureText('10').width;
      tallText(ctx, '10', 376 - wExp - w10, py + 38, baseFont, labelStretch);
      tallText(ctx, yTickLabels[i], 376 - wExp, py - 5, expFont, labelStretch);
    });

    const titleBold = 'bold 84px "Liberation Sans"';
    const titleSym = '98px "Liberation Serif"';
    const arrowFont = '146px "Liberation Serif"';
    const s = 1.08;
    drawRuns(ctx, [['Br(', 1160, titleBold, 0, s], ['\u03c4', 1283, titleSym, 0, 1], ['\u2192', 1317, arrowFont, 5, 1],
      ['3', 1454, titleBold, 0, s], ['\u03bc', 1528, titleSym, 0, 1], [')', 1600, titleBold, 0, s]], 1722);

    ctx.translate(98, 998);
    ctx.rotate(-Math.PI / 2);
    drawRuns(ctx, [['Br(', -6, titleBold, 0, s], ['\u03c4', 117, titleSym, 0, 1], ['\u2192', 150, arrowFont, 5, 1],
      ['\u03bc', 291, titleSym, 0, 1], ['\u03b3', 359, titleSym, 0, 1], [')', 420, titleBold, 0, s]], 0);
    ctx.restore();
  }
};

new Chart(document.getElementById('brChart').getContext('2d'), {
  type: 'scatter',
  data: {
    datasets: [
      region(greenOutline, '#00ff00', 20),
      cloud(greenPoints, '#00ff00', 19, 8),
      region(magentaOutline, '#ff00ff', 18),
      cloud(greenGaps, '#00ff00', 17, 5),
      cloud(magentaPoints, '#ff00ff', 16, 8),
      region(blueOutline, '#0000ff', 15),
      cloud(magentaGaps, '#ff00ff', 14, 4),
      cloud(bluePoints, '#0000ff', 13, 8),
      refLine({ x: 1e-13, y: limitMuGamma }, { x: 1e-7, y: limitMuGamma }, 10, [], 4),
      refLine({ x: limitThreeMu, y: 1e-10 }, { x: limitThreeMu, y: 1e-7 }, 10, [], 3),
      refLine({ x: 1e-13, y: futureMuGamma }, { x: 1e-7, y: futureMuGamma }, 9, [13, 8], 2),
      refLine({ x: futureThreeMu, y: 1e-10 }, { x: futureThreeMu, y: 1e-7 }, 10, [13, 8], 1)
    ]
  },
  plugins: [regionFill, frameAndText],
  options: {
    responsive: false,
    animation: false,
    layout: { padding: { left: 447, top: 104, right: 157, bottom: 299.5 } },
    plugins: { legend: { display: false }, tooltip: { enabled: false } },
    scales: {
      x: {
        type: 'logarithmic', min: 1e-13, max: 1e-7,
        afterBuildTicks: function(axis) { axis.ticks = xTickValues.map(function(v) { return { value: v }; }); },
        ticks: { display: false },
        border: { display: false, dash: [21, 41.5], dashOffset: 49.5 },
        grid: { color: '#000', lineWidth: 5, drawTicks: false }
      },
      y: {
        type: 'logarithmic', min: 1e-10, max: 1e-7,
        afterBuildTicks: function(axis) { axis.ticks = yTickValues.map(function(v) { return { value: v }; }); },
        ticks: { display: false },
        border: { display: false, dash: [21.5, 41] },
        grid: { color: '#000', lineWidth: 5, drawTicks: false }
      }
    }
  }
});
</script>
</body>
</html>
